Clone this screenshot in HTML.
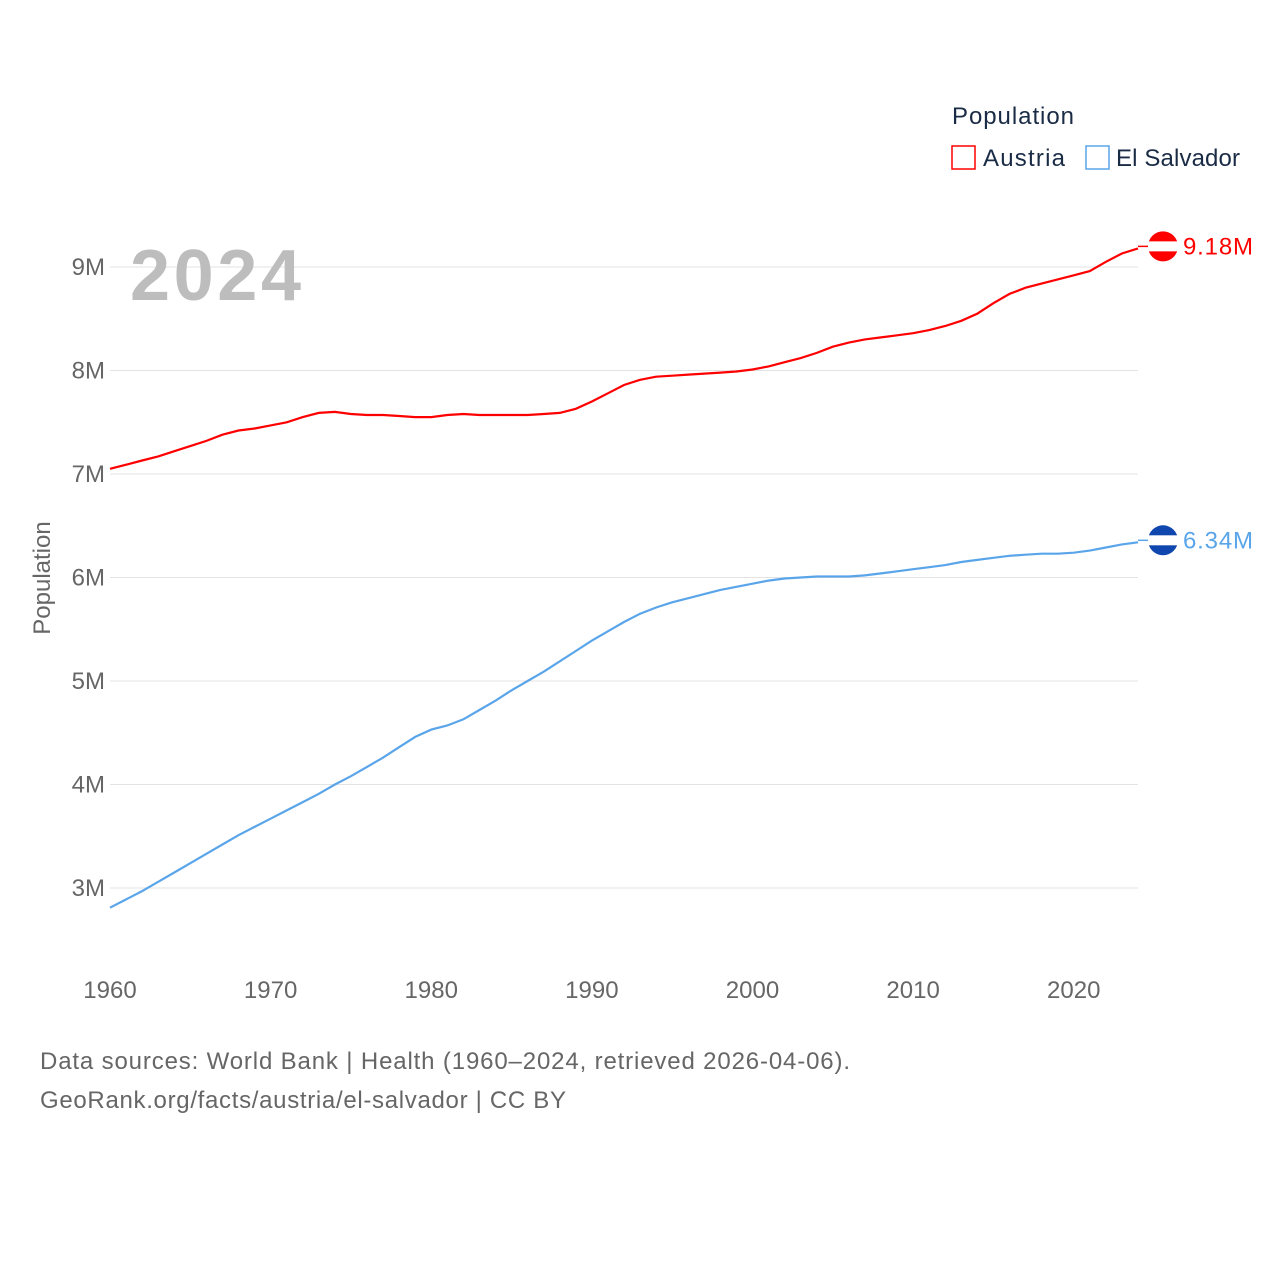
<!DOCTYPE html>
<html><head><meta charset="utf-8"><style>
body{margin:0;background:#fff;width:1280px;height:1280px;overflow:hidden;font-family:"Liberation Sans",sans-serif}
svg text{font-family:"Liberation Sans",sans-serif}
</style></head><body>
<svg id="chart" width="1280" height="1280" viewBox="0 0 1280 1280">
<text x="952" y="124" font-size="24" fill="#1a2b45" textLength="122">Population</text>
<rect x="952" y="146" width="23" height="23" fill="none" stroke="#ff0000" stroke-width="1.5"/>
<text x="983" y="166" font-size="24" fill="#1a2b45" textLength="82">Austria</text>
<rect x="1086" y="146" width="23" height="23" fill="none" stroke="#5aa5ea" stroke-width="1.5"/>
<text x="1116" y="166" font-size="24" fill="#1a2b45" textLength="124">El Salvador</text>
<g id="grid"></g>
<text x="130" y="300" font-size="72" font-weight="bold" fill="#bdbdbd" textLength="171">2024</text>
<text transform="translate(50,578) rotate(-90)" text-anchor="middle" font-size="24" fill="#666">Population</text>
<g id="lines"></g>
<text x="40" y="1069" font-size="24" fill="#666" textLength="810">Data sources: World Bank | Health (1960–2024, retrieved 2026-04-06).</text>
<text x="40" y="1108" font-size="24" fill="#666" textLength="526">GeoRank.org/facts/austria/el-salvador | CC BY</text>
</svg>
<script>
const years=[];for(let y=1960;y<=2024;y++)years.push(y);
const austria=[7.05,7.09,7.13,7.17,7.22,7.27,7.32,7.38,7.42,7.44,7.47,7.50,7.55,7.59,7.60,7.58,7.57,7.57,7.56,7.55,7.55,7.57,7.58,7.57,7.57,7.57,7.57,7.58,7.59,7.63,7.70,7.78,7.86,7.91,7.94,7.95,7.96,7.97,7.98,7.99,8.01,8.04,8.08,8.12,8.17,8.23,8.27,8.30,8.32,8.34,8.36,8.39,8.43,8.48,8.55,8.65,8.74,8.80,8.84,8.88,8.92,8.96,9.05,9.13,9.18];
const salvador=[2.81,2.89,2.97,3.06,3.15,3.24,3.33,3.42,3.51,3.59,3.67,3.75,3.83,3.91,4.00,4.08,4.17,4.26,4.36,4.46,4.53,4.57,4.63,4.72,4.81,4.91,5.00,5.09,5.19,5.29,5.39,5.48,5.57,5.65,5.71,5.76,5.80,5.84,5.88,5.91,5.94,5.97,5.99,6.00,6.01,6.01,6.01,6.02,6.04,6.06,6.08,6.10,6.12,6.15,6.17,6.19,6.21,6.22,6.23,6.23,6.24,6.26,6.29,6.32,6.34];
const yTicks=[3,4,5,6,7,8,9];
const xTicks=[1960,1970,1980,1990,2000,2010,2020];
const NS="http://www.w3.org/2000/svg";
const X=y=>110+(y-1960)*(1028/64);
const Y=v=>888-(v-3)*103.5;
const grid=document.getElementById('grid'),lines=document.getElementById('lines');
function mk(tag,attrs,parent,txt){const e=document.createElementNS(NS,tag);for(const k in attrs)e.setAttribute(k,attrs[k]);if(txt!==undefined)e.textContent=txt;parent.appendChild(e);return e;}
yTicks.forEach(v=>{
 const l=mk('line',{x1:110,x2:1138,y1:Y(v),y2:Y(v),stroke:'#e3e3e3','stroke-width':1},grid);
 
 
 const t=mk('text',{x:105,y:Y(v)+8,'text-anchor':'end','font-size':24,fill:'#666'},grid,v+'M');
 
 
});
xTicks.forEach(yr=>{
 const t=mk('text',{x:X(yr),y:998,'text-anchor':'middle','font-size':24,fill:'#666'},grid,yr);
 
 
});
function series(vals,color,name,flagTop,flagMid){
 const d=vals.map((v,i)=>(i?'L':'M')+X(years[i]).toFixed(1)+','+Y(v).toFixed(1)).join(' ');
 const p=mk('path',{d:d,fill:'none',stroke:color,'stroke-width':2.2},lines);
 
 
 const last=vals[vals.length-1],cx=1163,cy=Y(last)-2;
 const g=mk('g',{},lines);
 
 
 mk('line',{x1:X(2024),x2:cx-14,y1:cy,y2:cy,stroke:color,'stroke-width':1.5},g);
 mk('circle',{cx:cx,cy:cy,r:15,fill:flagTop},g);
 mk('rect',{x:cx-15,y:cy-5,width:30,height:10,fill:flagMid},g);
 const t=mk('text',{x:1183,y:cy+8,'font-size':24,fill:color,textLength:70},lines,last.toFixed(2)+'M');
 
 
}
series(austria,'#ff0000','austria','#ff0000','#ffffff');
series(salvador,'#5aa5ea','el-salvador','#0f47af','#ffffff');
</script>
</body></html>
